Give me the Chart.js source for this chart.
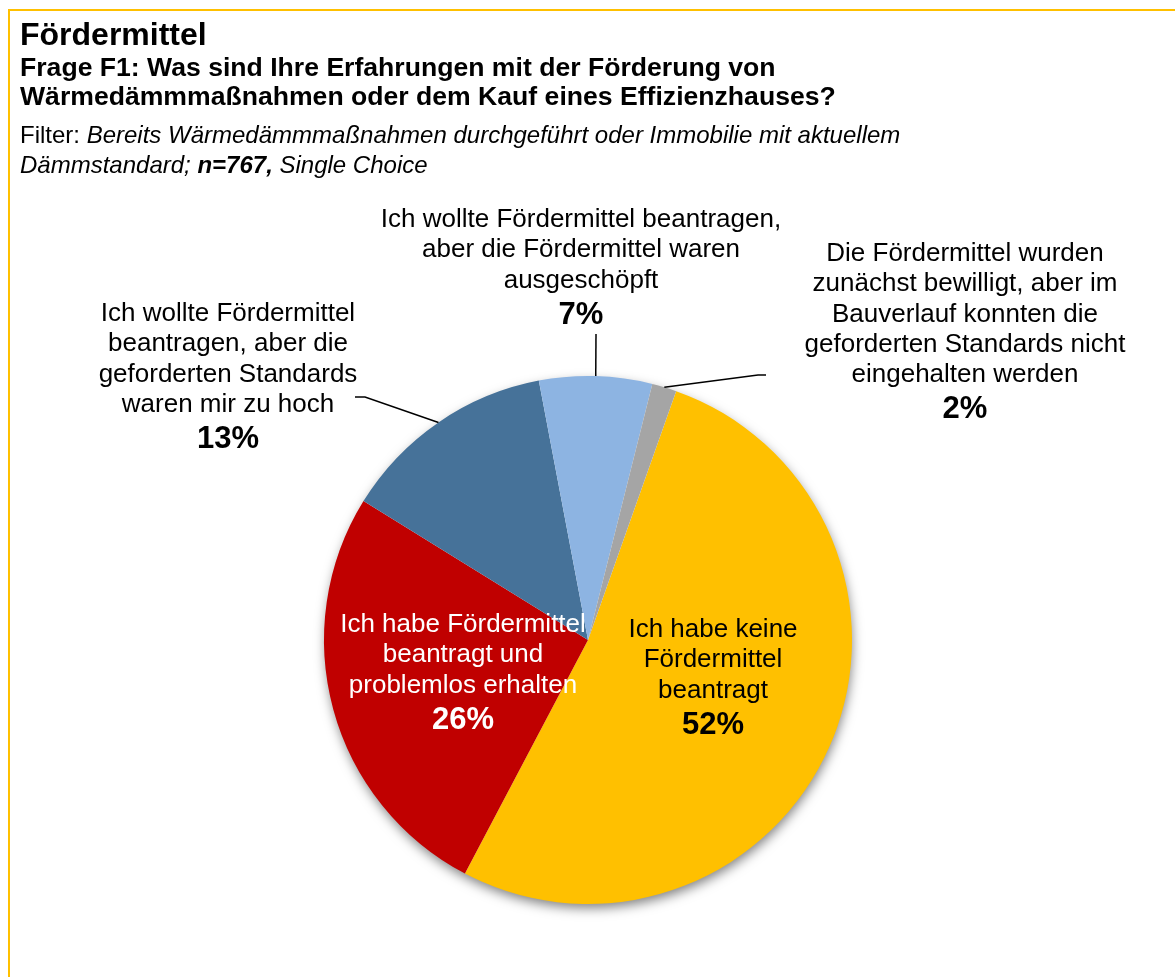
<!DOCTYPE html>
<html lang="de">
<head>
  <meta charset="UTF-8">
  <title>Fördermittel</title>
  <script src="https://cdn.jsdelivr.net/npm/chart.js"></script>
  <style>
    html, body { margin: 0; padding: 0; background: #fff; }
    body { width: 1175px; height: 977px; position: relative; overflow: hidden; font-family: "Liberation Sans", Arial, sans-serif; color: #000; }
    #frame { position: absolute; left: 8px; top: 9px; right: 0; bottom: 0; border-top: 2px solid #FFC000; border-left: 2px solid #FFC000; }
    canvas { position: absolute; left: 0; top: 0; }
    .hd { position: absolute; left: 20px; white-space: nowrap; }
    #title { top: 18px; font-size: 32px; line-height: 32px; font-weight: bold; }
    #subtitle { top: 53px; font-size: 26.6px; line-height: 29px; font-weight: bold; }
    #filter { top: 120px; font-size: 24px; line-height: 30px; }
  </style>
</head>
<body>
  <div id="frame"></div>
  <canvas id="pie" width="1175" height="977"></canvas>
  <div class="hd" id="title">Fördermittel</div>
  <div class="hd" id="subtitle">Frage F1: Was sind Ihre Erfahrungen mit der Förderung von<br>Wärmedämmmaßnahmen oder dem Kauf eines Effizienzhauses?</div>
  <div class="hd" id="filter">Filter: <i>Bereits Wärmedämmmaßnahmen durchgeführt oder Immobilie mit aktuellem<br>Dämmstandard; <b>n=767,</b> Single Choice</i></div>

  <script>
    // answers, clockwise starting right of the top
    const answers = [
      ['Ich habe keine', 'Fördermittel', 'beantragt'],
      ['Ich habe Fördermittel', 'beantragt und', 'problemlos erhalten'],
      ['Ich wollte Fördermittel', 'beantragen, aber die', 'geforderten Standards', 'waren mir zu hoch'],
      ['Ich wollte Fördermittel beantragen,', 'aber die Fördermittel waren', 'ausgeschöpft'],
      ['Die Fördermittel wurden', 'zunächst bewilligt, aber im', 'Bauverlauf konnten die', 'geforderten Standards nicht', 'eingehalten werden']
    ];
    const shares = [52.3, 26.1, 13.2, 6.9, 1.5];
    const colors = ['#FFC000', '#C00000', '#467299', '#8DB4E2', '#A5A5A5'];

    // where the label text sits (centre x, baseline of first line), plus leader bends
    const labelPos = [
      { x: 713, y: 637, color: '#000' },
      { x: 463, y: 632, color: '#fff' },
      { x: 228, y: 321, color: '#000', leader: [[365, 397], [355, 397]] },
      { x: 581, y: 227, color: '#000', leader: [[596, 334]] },
      { x: 965, y: 261, color: '#000', leader: [[758, 375], [766, 375]] }
    ];

    const pieShadow = {
      id: 'pieShadow',
      beforeDatasetsDraw(chart) {
        const arc = chart.getDatasetMeta(0).data[0];
        if (!arc) return;
        const ctx = chart.ctx;
        ctx.save();
        ctx.shadowColor = 'rgba(0,0,0,0.5)';
        ctx.shadowBlur = 12;
        ctx.shadowOffsetX = 1;
        ctx.shadowOffsetY = 5;
        ctx.fillStyle = '#fff';
        ctx.beginPath();
        ctx.arc(arc.x, arc.y, arc.outerRadius - 1, 0, Math.PI * 2);
        ctx.fill();
        ctx.restore();
      }
    };

    const sliceLabels = {
      id: 'sliceLabels',
      afterDatasetsDraw(chart) {
        const ctx = chart.ctx;
        const lineH = 30.3;
        chart.getDatasetMeta(0).data.forEach((arc, i) => {
          const pos = labelPos[i];
          if (pos.leader) {
            const mid = (arc.startAngle + arc.endAngle) / 2;
            ctx.save();
            ctx.strokeStyle = '#000';
            ctx.lineWidth = 1.5;
            ctx.beginPath();
            ctx.moveTo(arc.x + Math.cos(mid) * arc.outerRadius, arc.y + Math.sin(mid) * arc.outerRadius);
            pos.leader.forEach(p => ctx.lineTo(p[0], p[1]));
            ctx.stroke();
            ctx.restore();
          }
          const lines = chart.data.labels[i];
          ctx.save();
          ctx.fillStyle = pos.color;
          ctx.textAlign = 'center';
          ctx.textBaseline = 'alphabetic';
          ctx.font = '26px "Liberation Sans", Arial, sans-serif';
          lines.forEach((t, k) => ctx.fillText(t, pos.x, pos.y + k * lineH));
          ctx.font = 'bold 31px "Liberation Sans", Arial, sans-serif';
          const pct = Math.round(chart.data.datasets[0].data[i]) + '%';
          ctx.fillText(pct, pos.x, pos.y + (lines.length - 1) * lineH + 36);
          ctx.restore();
        });
      }
    };

    const ctx = document.getElementById('pie').getContext('2d');
    new Chart(ctx, {
      type: 'pie',
      data: {
        labels: answers,
        datasets: [{
          data: shares,
          backgroundColor: colors,
          borderWidth: 0
        }]
      },
      options: {
        responsive: false,
        animation: false,
        rotation: 19.5,
        layout: { padding: { left: 324, right: 323, top: 376, bottom: 73 } },
        plugins: {
          legend: { display: false },
          tooltip: { enabled: false }
        }
      },
      plugins: [pieShadow, sliceLabels]
    });
  </script>
</body>
</html>
